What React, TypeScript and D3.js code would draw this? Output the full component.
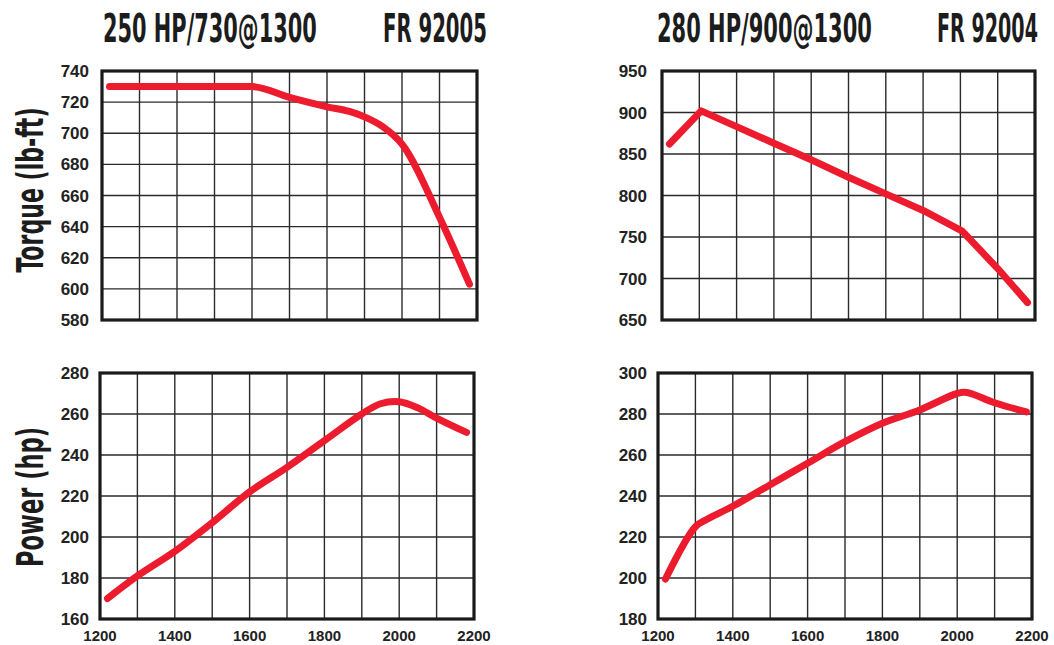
import React, { useLayoutEffect, useRef, useState } from "react";
import * as d3 from "d3";

// FR 92005 (250 HP / 730 @ 1300)
const rpmTorque92005 = [1220, 1300, 1400, 1500, 1600, 1700, 1800, 1860, 1900, 1950, 2000, 2100, 2180];
const torque92005 = [730, 730, 730, 730, 730, 723, 717, 714, 710.5, 704, 693, 646, 603];
const rpmPower92005 = [1220, 1300, 1400, 1500, 1600, 1700, 1800, 1900, 1950, 2000, 2050, 2100, 2180];
const power92005 = [170, 181, 193, 207, 222, 234, 247, 260, 265, 266, 263, 258, 251];

// FR 92004 (280 HP / 900 @ 1300)
const rpmTorque92004 = [1220, 1305, 1400, 1500, 1600, 1700, 1800, 1900, 2005, 2100, 2180];
const torque92004 = [862, 902, 883, 863, 843, 822, 802, 782, 757, 712, 671];
const rpmPower92004 = [1220, 1300, 1330, 1400, 1500, 1600, 1700, 1800, 1900, 2000, 2025, 2100, 2185];
const power92004 = [199.5, 225, 228.5, 235, 245.5, 256, 266.5, 275.5, 282, 290, 290.5, 285.5, 281];

const xTicks = [1200, 1400, 1600, 1800, 2000, 2200];
const xGrid = [1200, 1300, 1400, 1500, 1600, 1700, 1800, 1900, 2000, 2100, 2200];
const torqueTicks92005 = [580, 600, 620, 640, 660, 680, 700, 720, 740];
const powerTicks92005 = [160, 180, 200, 220, 240, 260, 280];
const torqueTicks92004 = [650, 700, 750, 800, 850, 900, 950];
const powerTicks92004 = [180, 200, 220, 240, 260, 280, 300];

const titleLeft = "250 HP/730@1300";
const codeLeft = "FR 92005";
const titleRight = "280 HP/900@1300";
const codeRight = "FR 92004";
const torqueLabel = "Torque (lb-ft)";
const powerLabel = "Power (hp)";

const RED = "#ec1c2e";
const INK = "#222";
const condensed = "'DejaVu Sans Condensed', 'Liberation Sans Narrow', 'DejaVu Sans', sans-serif";

type FitProps = {
  x: number; y: number; width: number; text: string; rotate?: boolean; fontSize: number;
};

function FitText({ x, y, width, text, rotate, fontSize }: FitProps) {
  const ref = useRef<SVGTextElement>(null);
  const [sx, setSx] = useState(0.6);
  useLayoutEffect(() => {
    if (ref.current) {
      const w = ref.current.getComputedTextLength();
      if (w > 0) setSx(width / w);
    }
  }, [width, text]);
  const tr = rotate
    ? `translate(${x},${y}) rotate(-90) scale(${sx},1)`
    : `translate(${x},${y}) scale(${sx},1)`;
  return (
    <text
      ref={ref}
      transform={tr}
      textAnchor={rotate ? "middle" : "start"}
      fontFamily={condensed}
      fontWeight={700}
      fontSize={fontSize}
      fill="#1c1c1c"
    >
      {text}
    </text>
  );
}

type PanelProps = {
  x0: number; x1: number; y0: number; y1: number;
  ticks: number[]; rpm: number[]; values: number[]; labelX: number; showX: boolean;
  curve: d3.CurveFactory;
};

function Panel({ x0, x1, y0, y1, ticks, rpm, values, labelX, showX, curve }: PanelProps) {
  const x = d3.scaleLinear().domain([1200, 2200]).range([x0, x1]);
  const y = d3.scaleLinear().domain([ticks[0], ticks[ticks.length - 1]]).range([y1, y0]);
  const line = d3
    .line<number>()
    .x((_, i) => x(rpm[i]))
    .y((d) => y(d))
    .curve(curve);
  return (
    <g>
      {xGrid.map((g) => (
        <line key={"v" + g} x1={x(g)} x2={x(g)} y1={y0} y2={y1} stroke="#2a2a2a" strokeWidth={1.4} />
      ))}
      {ticks.map((t) => (
        <line key={"h" + t} x1={x0} x2={x1} y1={y(t)} y2={y(t)} stroke="#2a2a2a" strokeWidth={1.4} />
      ))}
      <rect x={x0} y={y0} width={x1 - x0} height={y1 - y0} fill="none" stroke="#1a1a1a" strokeWidth={3.2} />
      {ticks.map((t) => (
        <text
          key={"l" + t}
          x={labelX}
          y={y(t)}
          dy="0.36em"
          textAnchor="end"
          fontFamily="'Liberation Sans', Arial, sans-serif"
          fontWeight={700}
          fontSize={17}
          fill={INK}
        >
          {t}
        </text>
      ))}
      {showX &&
        xTicks.map((t) => (
          <text
            key={"x" + t}
            x={x(t)}
            y={641}
            textAnchor="middle"
            fontFamily="'Liberation Sans', Arial, sans-serif"
            fontWeight={700}
            fontSize={15}
            fill={INK}
          >
            {t}
          </text>
        ))}
      <path d={line(values) || ""} fill="none" stroke={RED} strokeWidth={7} strokeLinecap="round" strokeLinejoin="round" />
    </g>
  );
}

export default function App() {
  return (
    <svg
      width={1054}
      height={645}
      viewBox="0 0 1054 645"
      style={{ position: "absolute", left: 0, top: 0, background: "#fff" }}
    >
      <rect width={1054} height={645} fill="#fff" />
      <FitText x={103} y={42} width={214} text={titleLeft} fontSize={39} />
      <FitText x={383} y={42} width={104} text={codeLeft} fontSize={39} />
      <FitText x={657} y={42} width={215} text={titleRight} fontSize={39} />
      <FitText x={937} y={42} width={101} text={codeRight} fontSize={39} />
      <FitText x={43} y={190} width={165} text={torqueLabel} rotate fontSize={38} />
      <FitText x={43} y={497} width={140} text={powerLabel} rotate fontSize={38} />
      <Panel x0={102} x1={477} y0={71} y1={320} ticks={torqueTicks92005} rpm={rpmTorque92005} values={torque92005} labelX={89} showX={false} curve={d3.curveMonotoneX} />
      <Panel x0={100} x1={474} y0={373} y1={619} ticks={powerTicks92005} rpm={rpmPower92005} values={power92005} labelX={89} showX={true} curve={d3.curveCatmullRom.alpha(0.5)} />
      <Panel x0={662} x1={1035} y0={71} y1={320} ticks={torqueTicks92004} rpm={rpmTorque92004} values={torque92004} labelX={647} showX={false} curve={d3.curveLinear} />
      <Panel x0={658} x1={1032} y0={373} y1={619} ticks={powerTicks92004} rpm={rpmPower92004} values={power92004} labelX={647} showX={true} curve={d3.curveCatmullRom.alpha(0.5)} />
    </svg>
  );
}
